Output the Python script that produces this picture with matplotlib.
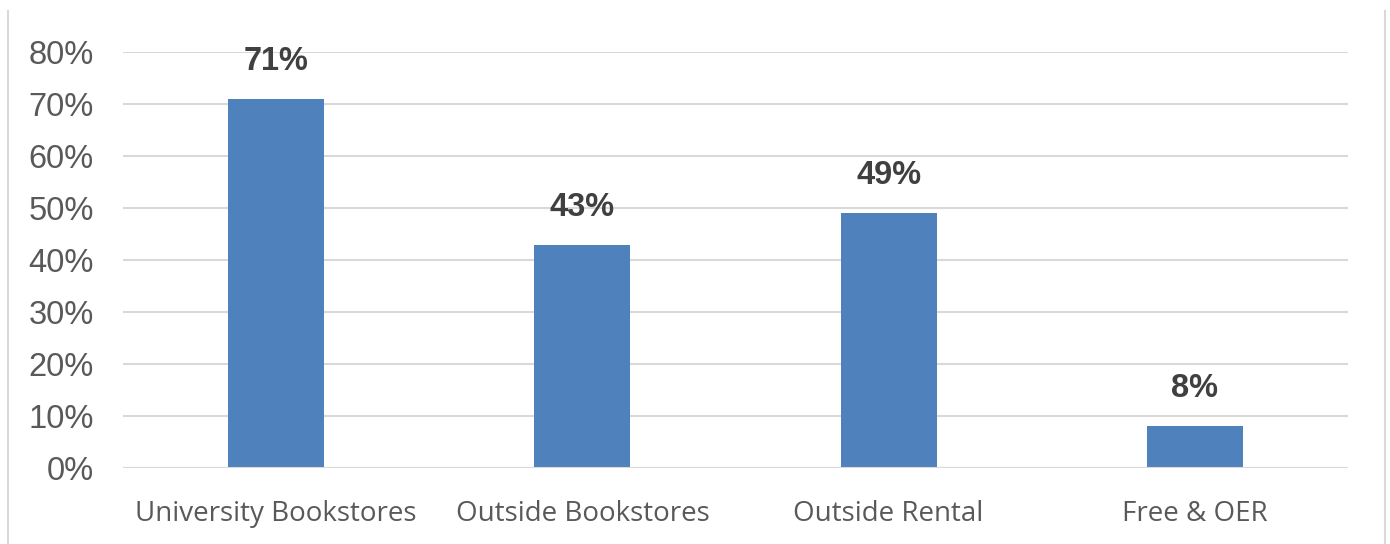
import matplotlib
matplotlib.use('Agg')
from matplotlib import pyplot as plt
from matplotlib.lines import Line2D
import numpy as np

# data
categories = ['University Bookstores', 'Outside Bookstores', 'Outside Rental', 'Free & OER']
values = [0.71, 0.43, 0.49, 0.08]
value_labels = ['71%', '43%', '49%', '8%']
yticks = [0, 0.1, 0.2, 0.3, 0.4, 0.5, 0.6, 0.7, 0.8]
ytick_labels = ['0%', '10%', '20%', '30%', '40%', '50%', '60%', '70%', '80%']

fig = plt.figure(figsize=(13.9, 5.44), dpi=100)
ax = fig.add_axes([0.0885, 0.1403, 0.8813, 0.7632])

x = np.arange(len(categories))
ax.bar(x, values, width=0.314, color='#4F81BD', zorder=3)

# value labels above bars
for xi, v, lab in zip(x, values, value_labels):
    ax.annotate(lab, (xi, v), xytext=(0, 22), textcoords='offset pixels',
                ha='center', va='bottom', fontsize=23.5, fontweight='bold',
                family='Liberation Sans', color='#404040')

ax.set_xlim(-0.5, len(categories) - 0.5)
ax.set_ylim(0, 0.8)
ax.set_yticks(yticks)
ax.set_yticklabels(ytick_labels, family='Liberation Sans', fontsize=23.5, color='#595959')
ax.set_xticks(x)
ax.set_xticklabels(categories, family='Open Sans', fontsize=20, color='#595959')
ax.tick_params(axis='y', length=0, pad=21)
ax.tick_params(axis='x', length=0, pad=23)

ax.grid(axis='y', color='#D9D9D9', linewidth=1.5, zorder=0)
for s in ax.spines.values():
    s.set_visible(False)
ax.axhline(0, color='#D9D9D9', linewidth=1.5, zorder=4)

# light frame lines on left and right
fig.add_artist(Line2D([8 / 1390, 8 / 1390], [0, 1 - 11 / 544], color='#D9D9D9', linewidth=1.5))
fig.add_artist(Line2D([1385 / 1390, 1385 / 1390], [0, 1 - 11 / 544], color='#D9D9D9', linewidth=1.5))

plt.savefig('out.png', dpi=100)
